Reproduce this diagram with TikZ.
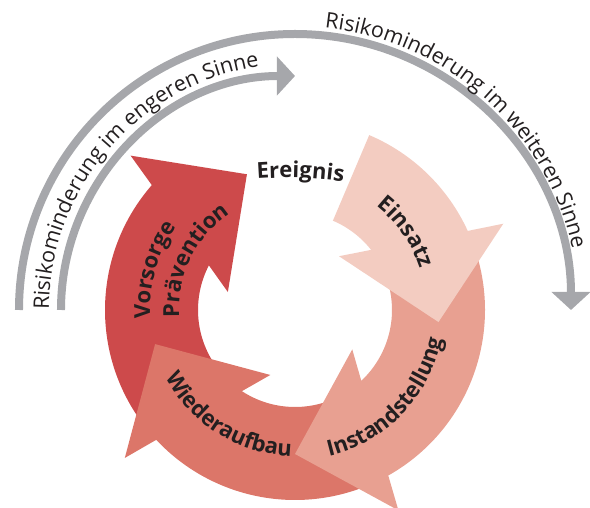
\documentclass[tikz,border=0pt]{standalone}
\usepackage{fontspec}
\setmainfont{Open Sans}
\usetikzlibrary{decorations.text,arrows.meta}
\definecolor{cV}{HTML}{CD4A4B}
\definecolor{cW}{HTML}{DC7669}
\definecolor{cI}{HTML}{E8A091}
\definecolor{cE}{HTML}{F3CCC1}
\definecolor{gr}{HTML}{A6A7AB}
\definecolor{txt}{HTML}{231F20}
\newcommand\arcfont{\fontsize{21.5}{26}\selectfont}
\newcommand\lblfont{\fontsize{22}{26}\selectfont\bfseries}
% #1 colour, #2 back angle, #3 tip angle
\newcommand\ringarrow[3]{%
  \fill[#1] (#2:190) arc[start angle=#2, end angle={#3+29.4}, radius=190]
    -- ({#3+27.3}:225.5) -- (#3:144) -- ({#3+55.5}:69.5) -- ({#3+43.1}:97)
    arc[start angle={#3+43.1}, end angle=#2, radius=97] -- cycle;}
\tikzset{
  grayarc/.style={draw=gr, line width=8pt, -{Triangle[width=38pt,length=18pt]}, gr},
  arctext/.style={decorate, decoration={text along path, text={|\arcfont|#1}, text color=txt}},
  lbltext/.style={decorate, decoration={text along path, text={|\lblfont|#1}, text align=center, text color=txt}},
  lbltextl/.style={decorate, decoration={text along path, text={|\lblfont|#1}, text color=txt}}
}
\begin{document}
\begin{tikzpicture}[x=1pt,y=1pt]
\useasboundingbox (-295,-198) rectangle (295,310);
\coordinate (C) at (0,0);
% ring arrows (drawn so that each head lies over the next band's start)
\ringarrow{cV}{217.7}{109.5}
\ringarrow{cW}{-66}{-166.3}
\ringarrow{cI}{19.2}{-90}
\ringarrow{cE}{67}{-4.8}
% grey arcs
\draw[grayarc] (180:234) arc[start angle=180, end angle=90, radius=234];
\draw[grayarc] (180:276) arc[start angle=180, end angle=0, radius=276];
% texts on grey arcs
\path[arctext={Risikominderung im engeren Sinne}] (180:246) arc[start angle=180, end angle=60, radius=246];
\path[arctext={Risikominderung im weiteren Sinne}] (84:284) arc[start angle=84, end angle=-30, radius=284];
% labels
\path[lbltext={Einsatz}] (80:132) arc[start angle=80, end angle=-10, radius=132];
\path[lbltext={Instandstellung}] (-104:150) arc[start angle=-104, end angle=16, radius=150];
\path[lbltext={Wiederaufbau}] (-182:146) arc[start angle=-182, end angle=-62, radius=146];
\path[lbltextl={Vorsorge}] (183.5:145) arc[start angle=183.5, end angle=100, radius=145];
\path[lbltextl={Prävention}] (183.8:116) arc[start angle=183.8, end angle=90, radius=116];
\path[shift={(-8.56,-267.8)}, lbltext={Ereignis}] (100:400) arc[start angle=100, end angle=76, radius=400];
\end{tikzpicture}
\end{document}
